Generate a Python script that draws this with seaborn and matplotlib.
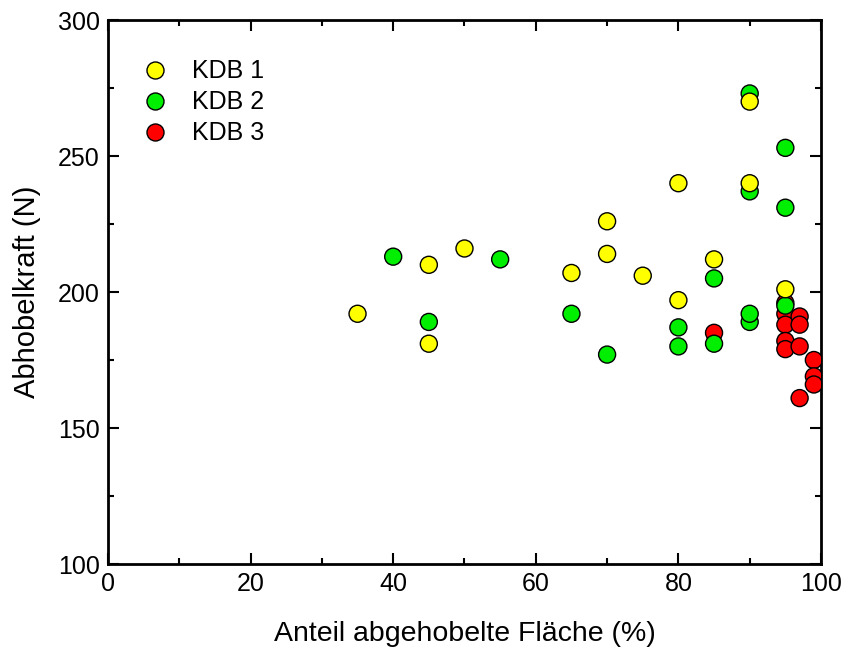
import matplotlib
matplotlib.use("Agg")
import matplotlib.pyplot as plt
from matplotlib.ticker import MultipleLocator
import seaborn as sns
import pandas as pd

# KDB 1 (yellow)
kdb1_x = [35, 45, 45, 50, 65, 70, 70, 75, 80, 80, 85, 90, 90, 95]
kdb1_y = [192, 181, 210, 216, 207, 214, 226, 206, 197, 240, 212, 240, 270, 201]
# KDB 2 (green)
kdb2_x = [40, 45, 55, 65, 70, 80, 80, 85, 85, 90, 90, 90, 90, 95, 95, 95]
kdb2_y = [213, 189, 212, 192, 177, 187, 180, 205, 181, 189, 192, 273, 237, 253, 231, 195]
# KDB 3 (red)
kdb3_x = [85, 95, 95, 95, 95, 95, 97, 97, 97, 97, 99, 99, 99]
kdb3_y = [185, 196, 192, 188, 182, 179, 191, 188, 180, 161, 175, 169, 166]

series = ["KDB 1", "KDB 2", "KDB 3"]
colors = {"KDB 1": "#FFFF00", "KDB 2": "#00EE00", "KDB 3": "#FF0000"}

# draw order: red underneath, then green, then yellow
df = pd.concat([
    pd.DataFrame({"x": kdb3_x, "y": kdb3_y, "Serie": "KDB 3"}),
    pd.DataFrame({"x": kdb2_x, "y": kdb2_y, "Serie": "KDB 2"}),
    pd.DataFrame({"x": kdb1_x, "y": kdb1_y, "Serie": "KDB 1"}),
], ignore_index=True)

sns.set_theme(style="ticks")
plt.rcParams["font.family"] = ["Liberation Sans", "DejaVu Sans"]
plt.rcParams["text.color"] = "black"
plt.rcParams["axes.labelcolor"] = "black"
plt.rcParams["xtick.color"] = "black"
plt.rcParams["ytick.color"] = "black"

fig = plt.figure(figsize=(8.45, 6.5), dpi=100)
ax = fig.add_axes([0.1278, 0.1323, 0.8438, 0.8369])

sns.scatterplot(data=df, x="x", y="y", hue="Serie", hue_order=series,
                palette=colors, s=150, edgecolor="black", linewidth=1,
                alpha=1, ax=ax, zorder=3)

ax.set_xlim(0, 100)
ax.set_ylim(100, 300)
ax.xaxis.set_major_locator(MultipleLocator(20))
ax.xaxis.set_minor_locator(MultipleLocator(10))
ax.yaxis.set_major_locator(MultipleLocator(50))
ax.yaxis.set_minor_locator(MultipleLocator(25))
ax.tick_params(which="both", direction="in", top=True, right=True,
               labeltop=False, labelright=False, width=1.5,
               color="black", labelcolor="black")
ax.tick_params(which="major", length=8, labelsize=18, pad=6)
ax.tick_params(which="minor", length=4.5)
for sp in ax.spines.values():
    sp.set_linewidth(2)
    sp.set_color("black")

ax.set_xlabel("Anteil abgehobelte Fläche (%)", fontsize=20.5, labelpad=18,
              color="black")
ax.set_ylabel("Abhobelkraft (N)", fontsize=21, labelpad=12, color="black")

leg = ax.legend(frameon=False, loc="upper left", bbox_to_anchor=(-0.001, 0.969),
                fontsize=18, handletextpad=0.5, labelspacing=0.28,
                markerscale=1.0)
for t in leg.get_texts():
    t.set_color("black")

fig.savefig("out.png", dpi=100)
